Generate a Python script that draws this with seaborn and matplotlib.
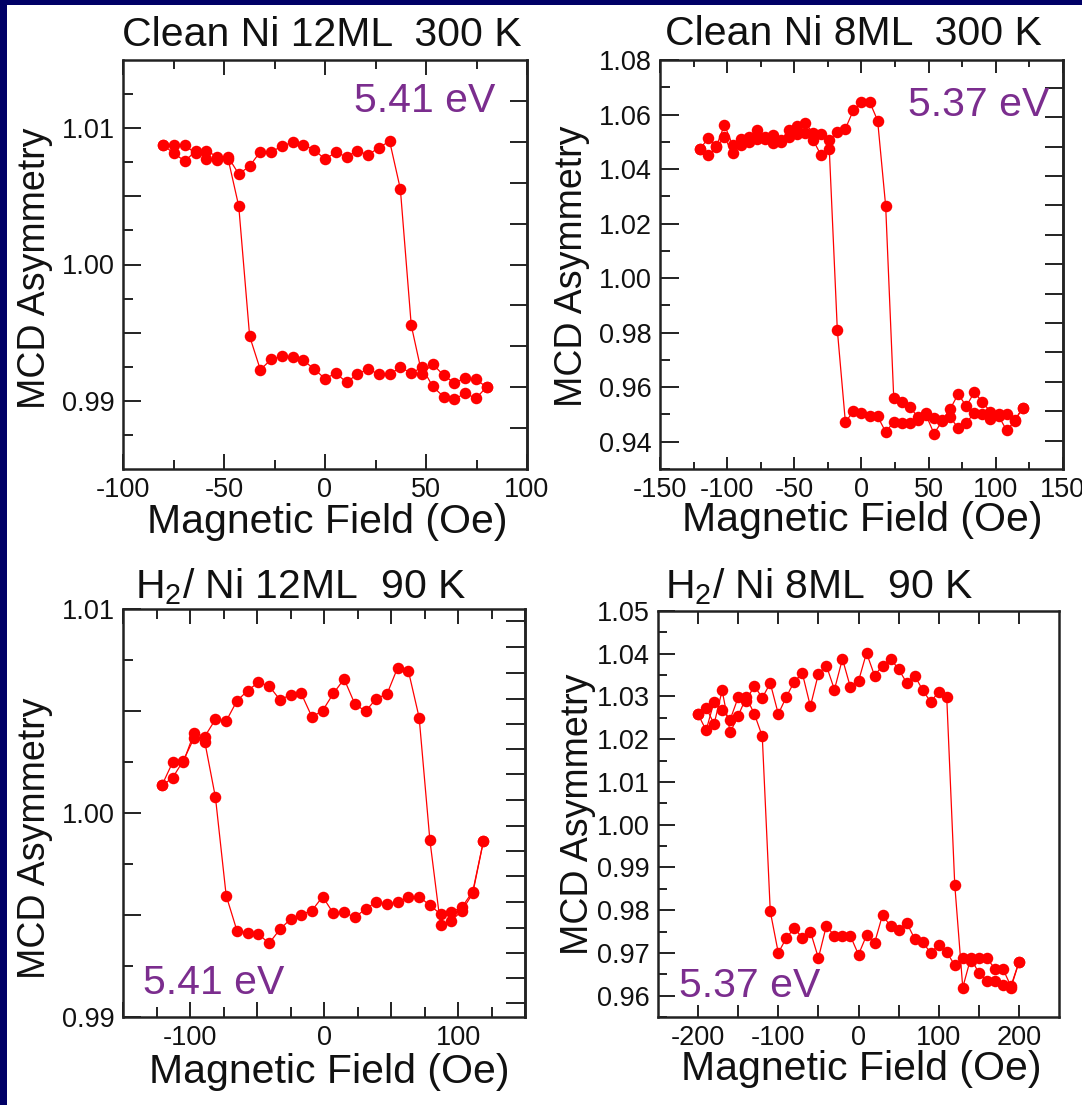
import matplotlib
matplotlib.use("Agg")
import matplotlib.pyplot as plt
import seaborn as sns
from matplotlib.patches import Rectangle

# ---------------- data ----------------
# Clean Ni 12ML, 300 K (5.41 eV): field in Oe, asymmetry for the up and down sweeps
ni12_clean_field = [-80, -74.7, -69.3, -64, -58.7, -53.3, -48, -42.7, -37.3, -32, -26.7,
                    -21.3, -16, -10.7, -5.3, 0, 5.3, 10.7, 16, 21.3, 26.7, 32, 37.3, 42.7,
                    48, 53.3, 58.7, 64, 69.3, 74.7, 80]
ni12_clean_up = [1.00873, 1.00815, 1.00757, 1.00835, 1.00777, 1.00765, 1.00790, 1.00663,
                 1.00722, 1.00828, 1.00828, 1.00866, 1.00899, 1.00878, 1.00841, 1.00772,
                 1.00823, 1.00790, 1.00835, 1.00803, 1.00858, 1.00904, 1.00554, 0.99554,
                 0.99195, 0.99271, 0.99187, 0.99132, 0.99165, 0.99157, 0.99101]
ni12_clean_down = [0.99101, 0.99018, 0.99056, 0.99010, 0.99030, 0.99106, 0.99246, 0.99203,
                   0.99246, 0.99195, 0.99195, 0.99233, 0.99195, 0.99137, 0.99203, 0.99162,
                   0.99233, 0.99296, 0.99322, 0.99327, 0.99304, 0.99228, 0.99473, 1.00428,
                   1.00777, 1.00790, 1.00835, 1.00815, 1.00873, 1.00873, 1.00873]

# Clean Ni 8ML, 300 K (5.37 eV)
ni8_clean_field = [-120, -114, -108, -102, -96, -90, -84, -78, -72, -66, -60, -54, -48, -42,
                   -36, -30, -24, -18, -12, -6, 0, 6, 12, 18, 24, 30, 36, 42, 48, 54, 60,
                   66, 72, 78, 84, 90, 96, 102, 108, 114, 120]
ni8_clean_up = [1.0475, 1.0514, 1.0484, 1.0562, 1.0488, 1.0509, 1.0517, 1.0542, 1.0517,
                1.0524, 1.0506, 1.0542, 1.0557, 1.0568, 1.0532, 1.0529, 1.0506, 1.0536,
                1.0548, 1.0616, 1.0645, 1.0647, 1.0578, 1.0264, 0.9560, 0.9545, 0.9528,
                0.9490, 0.9505, 0.9488, 0.9478, 0.9520, 0.9575, 0.9530, 0.9582, 0.9545,
                0.9510, 0.9500, 0.9500, 0.9478, 0.9525]
ni8_clean_down = [0.9525, 0.9475, 0.9442, 0.9495, 0.9485, 0.9500, 0.9505, 0.9470, 0.9450,
                  0.9490, 0.9475, 0.9430, 0.9498, 0.9480, 0.9470, 0.9470, 0.9472, 0.9436,
                  0.9493, 0.9493, 0.9505, 0.9512, 0.9472, 0.9810, 1.0475, 1.0450, 1.0506,
                  1.0532, 1.0527, 1.0517, 1.0500, 1.0496, 1.0510, 1.0511, 1.0500, 1.0490,
                  1.0458, 1.0517, 1.0480, 1.0450, 1.0475]

# H2 / Ni 12ML, 90 K (5.41 eV)
ni12_h2_field = [-121, -113, -105, -97, -89, -81, -73, -65, -57, -49, -41, -33, -25, -17,
                 -9, -1, 7, 15, 23, 31, 39, 47, 55, 63, 71, 79, 87, 95, 103, 111, 119]
ni12_h2_up = [1.00135, 1.00248, 1.00248, 1.00392, 1.00375, 1.00459, 1.00451, 1.00549,
              1.00600, 1.00640, 1.00623, 1.00556, 1.00578, 1.00586, 1.00471, 1.00502,
              1.00586, 1.00657, 1.00535, 1.00498, 1.00561, 1.00583, 1.00713, 1.00696,
              1.00468, 0.99868, 0.99449, 0.99471, 0.99522, 0.99606, 0.99863]
ni12_h2_down = [0.99863, 0.99615, 0.99539, 0.99514, 0.99505, 0.99547, 0.99590, 0.99586,
                0.99564, 0.99552, 0.99564, 0.99530, 0.99488, 0.99514, 0.99508, 0.99590,
                0.99522, 0.99502, 0.99480, 0.99429, 0.99361, 0.99407, 0.99412, 0.99424,
                0.99595, 1.00076, 1.00350, 1.00367, 1.00257, 1.00172, 1.00135]

# H2 / Ni 8ML, 90 K (5.37 eV)
ni8_h2_field = [-200, -190, -180, -170, -160, -150, -140, -130, -120, -110, -100, -90, -80,
                -70, -60, -50, -40, -30, -20, -10, 0, 10, 20, 30, 40, 50, 60, 70, 80, 90,
                100, 110, 120, 130, 140, 150, 160, 170, 180, 190, 200]
ni8_h2_up = [1.0258, 1.0221, 1.0288, 1.0268, 1.0246, 1.0298, 1.0290, 1.0325, 1.0297,
             1.0331, 1.0259, 1.0299, 1.0335, 1.0354, 1.0277, 1.0353, 1.0372, 1.0316,
             1.0388, 1.0321, 1.0336, 1.0402, 1.0349, 1.0372, 1.0388, 1.0364, 1.0332,
             1.0349, 1.0315, 1.0287, 1.0311, 1.0299, 0.9860, 0.9619, 0.9688, 0.9653,
             0.9635, 0.9635, 0.9626, 0.9618, 0.9678]
ni8_h2_down = [0.9678, 0.9622, 0.9663, 0.9663, 0.9688, 0.9688, 0.9682, 0.9688, 0.9671,
               0.9702, 0.9719, 0.9700, 0.9725, 0.9733, 0.9771, 0.9754, 0.9762, 0.9789,
               0.9723, 0.9741, 0.9696, 0.9739, 0.9739, 0.9739, 0.9764, 0.9688, 0.9750,
               0.9735, 0.9758, 0.9735, 0.9700, 0.9797, 1.0207, 1.0260, 1.0298, 1.0255,
               1.0216, 1.0314, 1.0236, 1.0273, 1.0258]

titles = ["Clean Ni 12ML  300 K", "Clean Ni 8ML  300 K",
          r"H$_{\mathregular{2}}$/ Ni 12ML  90 K", r"H$_{\mathregular{2}}$/ Ni 8ML  90 K"]
energies = ["5.41 eV", "5.37 eV", "5.41 eV", "5.37 eV"]

# ---------------- style ----------------
sns.set_theme(style="white")
plt.rcParams["font.family"] = ["Liberation Sans", "DejaVu Sans"]
plt.rcParams["mathtext.fontset"] = "custom"
plt.rcParams["mathtext.rm"] = "Liberation Sans"
plt.rcParams["mathtext.it"] = "Liberation Sans:italic"
plt.rcParams["mathtext.bf"] = "Liberation Sans:bold"
plt.rcParams["axes.unicode_minus"] = False

W, H = 1082, 1105
fig = plt.figure(figsize=(W / 100, H / 100), dpi=100, facecolor="white")
NAVY = "#000066"
PURPLE = "#7B2D8E"
TXT = "#111111"

# slide border strips
fig.patches.append(Rectangle((0, 1 - 5 / H), 1, 5 / H, transform=fig.transFigure,
                             facecolor=NAVY, edgecolor="none", zorder=0))
fig.patches.append(Rectangle((0, 0), 7 / W, 1, transform=fig.transFigure,
                             facecolor=NAVY, edgecolor="none", zorder=0))


def px_axes(left, top, right, bottom):
    return fig.add_axes([left / W, 1 - bottom / H, (right - left) / W, (bottom - top) / H])


def fx(x):
    return x / W


def fy(y):
    return 1 - y / H


def draw_loop(ax, field, up, down):
    kw = dict(sort=False, estimator=None, ax=ax, color="#FF0000", marker="o",
              markersize=8.3, markeredgewidth=0, linewidth=0.9)
    sns.lineplot(x=field, y=up, **kw)
    sns.lineplot(x=field[::-1], y=down, **kw)


def frame(ax, xlim, ylim, xmaj, xlab, xmin, ymaj, ylab, ymin,
          xlen, ylen, top=True):
    ax.set_xlim(*xlim)
    ax.set_ylim(*ylim)
    ax.set_xticks(xmaj, xlab)
    ax.set_xticks(xmin, minor=True)
    ax.set_yticks(ymaj, ylab)
    ax.set_yticks(ymin, minor=True)
    for s in ax.spines.values():
        s.set_linewidth(1.8)
        s.set_color("#222222")
    ax.tick_params(axis="x", which="major", direction="in", length=xlen[0], width=1.4,
                   color="#222222", top=top, bottom=True, labelsize=19.5,
                   labelcolor=TXT, pad=6)
    ax.tick_params(axis="x", which="minor", direction="in", length=xlen[1], width=1.4,
                   color="#222222", top=top, bottom=True)
    ax.tick_params(axis="y", which="major", direction="in", length=ylen[0], width=1.4,
                   color="#222222", left=True, right=False, labelsize=19.5,
                   labelcolor=TXT, pad=6)
    ax.tick_params(axis="y", which="minor", direction="in", length=ylen[1], width=1.4,
                   color="#222222", left=True, right=False)
    ax.set_facecolor("white")


def right_ticks(ax, ticks, length):
    sec = ax.secondary_yaxis("right")
    sec.set_yticks(ticks, [""] * len(ticks))
    sec.tick_params(direction="in", length=length, width=1.4, color="#222222")
    sec.spines["right"].set_linewidth(1.8)
    sec.spines["right"].set_color("#222222")


def labels(ax, ylab_x, ylab_y, xlab_x, xlab_y):
    ax.set_ylabel("MCD Asymmetry", fontsize=27, color=TXT, va="baseline")
    ax.yaxis.set_label_coords(fx(ylab_x), fy(ylab_y), transform=fig.transFigure)
    ax.set_xlabel("Magnetic Field (Oe)", fontsize=29.5, color=TXT, va="baseline")
    ax.xaxis.set_label_coords(fx(xlab_x), fy(xlab_y), transform=fig.transFigure)


# ---- panel 1: clean Ni 12ML ----
ax1 = px_axes(123, 60, 527, 469)
draw_loop(ax1, ni12_clean_field, ni12_clean_up, ni12_clean_down)
frame(ax1, (-100, 100), (0.985, 1.015),
      [-100, -50, 0, 50, 100], ["-100", "-50", "0", "50", "100"], [-75, -25, 25, 75],
      [0.99, 0.995, 1.0, 1.005, 1.01], ["0.99", "", "1.00", "", "1.01"],
      [0.9875, 0.9925, 0.9975, 1.0025, 1.0075, 1.0125],
      (11, 6.5), (13, 7))
right_ticks(ax1, [0.988, 0.991, 0.994, 0.997, 1.000, 1.003, 1.006, 1.009, 1.012], 12)
labels(ax1, 45, 268, 327, 533)

# ---- panel 2: clean Ni 8ML ----
ax2 = px_axes(660, 60, 1063, 469)
draw_loop(ax2, ni8_clean_field, ni8_clean_up, ni8_clean_down)
frame(ax2, (-150, 150), (0.93, 1.08),
      [-150, -100, -50, 0, 50, 100, 150],
      ["-150", "-100", "-50", "0", "50", "100", "150"],
      [-125, -75, -25, 25, 75, 125],
      [0.94, 0.96, 0.98, 1.00, 1.02, 1.04, 1.06, 1.08],
      ["0.94", "0.96", "0.98", "1.00", "1.02", "1.04", "1.06", "1.08"],
      [0.93, 0.95, 0.97, 0.99, 1.01, 1.03, 1.05, 1.07],
      (9, 5), (13.5, 7))
right_ticks(ax2, [0.9404, 0.9512, 0.9620, 0.9728, 0.9836, 0.9943, 1.0051, 1.0159,
                  1.0267, 1.0375, 1.0482, 1.0590, 1.0698], 13)
labels(ax2, 582, 266, 862, 531)

# ---- panel 3: H2 / Ni 12ML ----
ax3 = px_axes(123, 609, 525, 1017)
draw_loop(ax3, ni12_h2_field, ni12_h2_up, ni12_h2_down)
frame(ax3, (-150, 150), (0.99, 1.01),
      [-150, -100, -50, 0, 50, 100, 150], ["", "-100", "", "0", "", "100", ""],
      [-125, -75, -25, 25, 75, 125],
      [0.99, 0.995, 1.0, 1.005, 1.01], ["0.99", "", "1.00", "", "1.01"],
      [0.9925, 0.9975, 1.0025, 1.0075],
      (11, 7), (13, 7))
right_ticks(ax3, [0.99069, 0.99193, 0.99316, 0.99437, 0.99564, 0.99691, 0.99812, 0.99936,
                  1.00063, 1.00189, 1.00316, 1.00434, 1.00561, 1.00688, 1.00814, 1.00941],
            13.5)
labels(ax3, 45, 838, 329, 1083)

# ---- panel 4: H2 / Ni 8ML ----
ax4 = px_axes(658, 611, 1059, 1017)
draw_loop(ax4, ni8_h2_field, ni8_h2_up, ni8_h2_down)
frame(ax4, (-250, 250), (0.955, 1.05),
      [-200, -150, -100, -50, 0, 50, 100, 150, 200],
      ["-200", "", "-100", "", "0", "", "100", "", "200"], [],
      [0.96, 0.97, 0.98, 0.99, 1.00, 1.01, 1.02, 1.03, 1.04, 1.05],
      ["0.96", "0.97", "0.98", "0.99", "1.00", "1.01", "1.02", "1.03", "1.04", "1.05"],
      [0.955, 0.965, 0.975, 0.985, 0.995, 1.005, 1.015, 1.025, 1.035, 1.045],
      (9, 5), (12, 6.5))
labels(ax4, 588, 814, 861, 1080)

# ---- titles and photon energies ----
title_pos = [(122, 46.5), (665, 45), (135, 598.5), (665, 598.5)]
for t, (x, y) in zip(titles, title_pos):
    fig.text(fx(x), fy(y), t, fontsize=29.5, color=TXT, ha="left", va="baseline")

energy_pos = [(354, 112), (908, 115.5), (143, 993.5), (679, 997)]
for e, (x, y) in zip(energies, energy_pos):
    fig.text(fx(x), fy(y), e, fontsize=29.5, color=PURPLE, ha="left", va="baseline")

fig.savefig("out.png", dpi=100, facecolor="white")
